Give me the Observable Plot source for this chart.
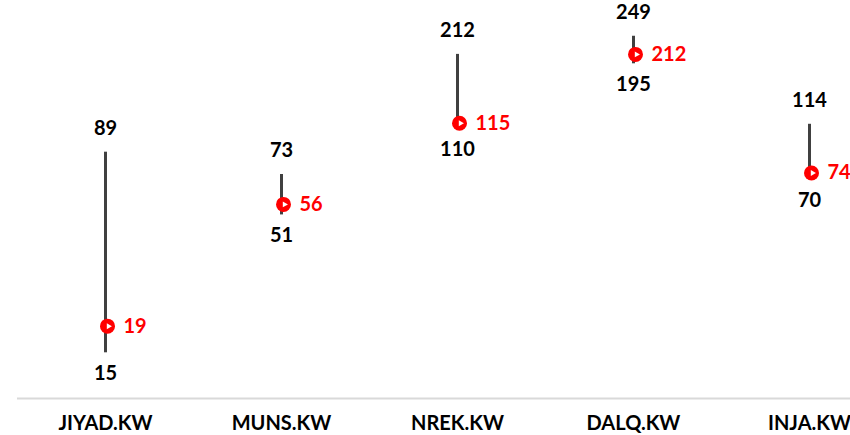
<!DOCTYPE html>
<html><head>
<meta charset="utf-8">
<script src="https://cdn.jsdelivr.net/npm/d3@7"></script>
<script src="https://cdn.jsdelivr.net/npm/@observablehq/plot@0.6"></script>
<style>body{margin:0;background:#fff}</style>
</head><body><div id="chart"></div>
<script>
const tickers = ["JIYAD.KW","MUNS.KW","NREK.KW","DALQ.KW","INJA.KW"];
const highs = [89,73,212,249,114];
const lows = [15,51,110,195,70];
const current = [19,56,115,212,74];
const data = tickers.map((t,i)=>({ticker:t, high:highs[i], low:lows[i], cur:current[i]}));
const font = "Lato, 'Open Sans', sans-serif";
const fs = 20;
const chart = Plot.plot({
  width: 850, height: 435,
  marginTop: 0, marginBottom: 37, marginLeft: 17, marginRight: 0,
  style: {fontFamily: font, fontSize: fs + "px", fontWeight: 700, background: "#fff", color: "#000"},
  x: {type: "point", domain: tickers, range: [104, 809], padding: 0, label: null},
  y: {type: "log", domain: [10, 342], axis: null},
  marks: [
    Plot.ruleY([10], {stroke: "#d9d9d9", strokeWidth: 2}),
    Plot.ruleX(data, {x: "ticker", y1: "low", y2: "high", stroke: "#404040", strokeWidth: 3}),
    Plot.dot(data, {x: "ticker", y: "cur", r: 7.5, fill: "#ff0000", dx: 2}),
    Plot.dot(data, {x: "ticker", y: "cur", symbol: "triangle", r: 2.2, fill: "#fff", rotate: 90, dx: 3}),
    Plot.text(data, {x: "ticker", y: "high", text: d => String(d.high), dy: -24, fill: "#000", fontSize: fs}),
    Plot.text(data, {x: "ticker", y: "low", text: d => String(d.low), dy: 21, fill: "#000", fontSize: fs}),
    Plot.text(data, {x: "ticker", y: "cur", text: d => String(d.cur), dx: 18, textAnchor: "start", fill: "#ff0000", fontSize: fs}),
    Plot.axisX({tickSize: 0, tickPadding: 17, fontWeight: 700, fontSize: fs, fill: "#000", label: null})
  ]
});
document.getElementById("chart").append(chart);
</script>
</body></html>
